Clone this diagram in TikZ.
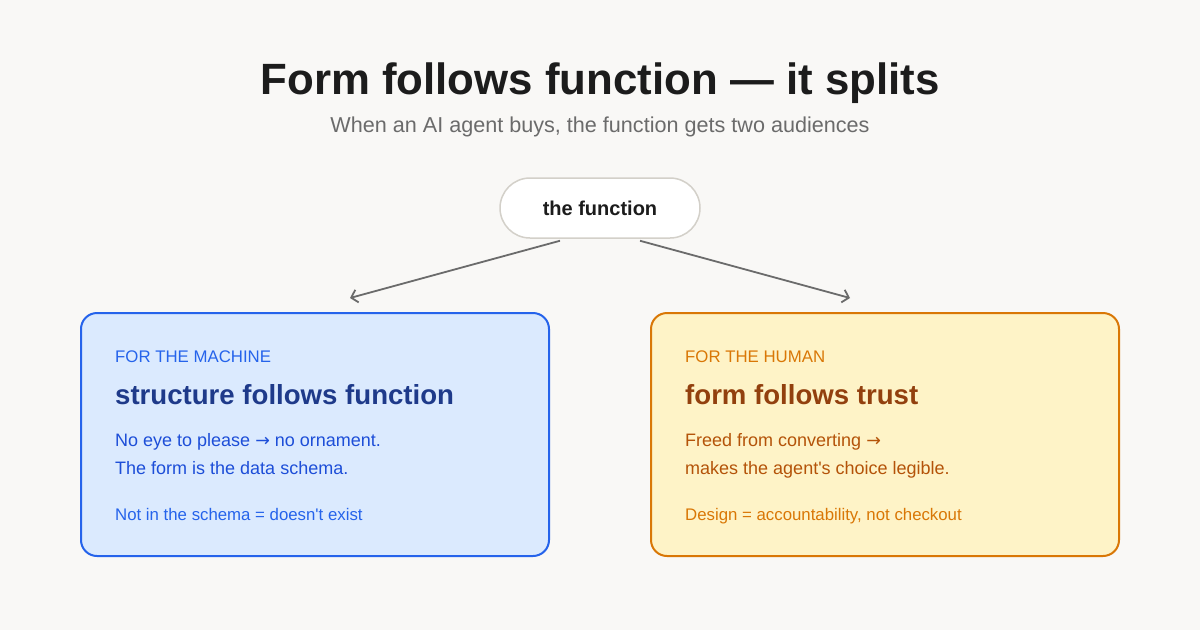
\documentclass[tikz,border=0pt]{standalone}
\usepackage{fontspec}
\setmainfont{Liberation Sans}[Ligatures=TeXOff]
\newfontfamily\arrowfont{DejaVu Sans}
\usetikzlibrary{arrows.meta}

\definecolor{paper}{HTML}{F9F8F6}
\definecolor{ink}{HTML}{1C1C1C}
\definecolor{muted}{HTML}{6B6B6B}
\definecolor{pillline}{HTML}{D3D0C9}
\definecolor{bluefill}{HTML}{DBEAFE}
\definecolor{blueline}{HTML}{2563EB}
\definecolor{bluehead}{HTML}{1E3A8A}
\definecolor{bluetext}{HTML}{1D4ED8}
\definecolor{ambfill}{HTML}{FEF3C7}
\definecolor{ambline}{HTML}{D97706}
\definecolor{ambhead}{HTML}{92400E}
\definecolor{ambtext}{HTML}{B45309}

\newcommand{\rarr}{{\arrowfont\fontsize{17.5}{20}\selectfont →}}

\begin{document}
\begin{tikzpicture}[
    x=1pt, y=-1pt,
    >={Straight Barb[length=6pt, width=13pt, line width=1.8pt]}, % open chevron tips
    card/.style={draw, line width=2pt, rounded corners=16pt, minimum width=468pt, minimum height=243pt},
    txt/.style={anchor=base west, inner sep=0pt},
    kicker/.style={txt, font=\fontsize{16.8}{20}\selectfont},
    headline/.style={txt, font=\fontsize{27.6}{32}\selectfont\bfseries},
    body/.style={txt, font=\fontsize{18}{21}\selectfont},
    link/.style={->, muted, line width=1.8pt}
]

    % Background and page size
    \useasboundingbox[fill=paper] (0,0) rectangle (1200,630);

    % Title block
    \node[anchor=base, inner sep=0pt, text=ink, font=\fontsize{43.8}{52}\selectfont\bfseries] (title) at (600,94) {Form follows function — it splits};
    \node[anchor=base, inner sep=0pt, text=muted, font=\fontsize{21.6}{26}\selectfont] (subtitle) at (600,132) {When an AI agent buys, the function gets two audiences};

    % Root pill
    \node[draw=pillline, fill=white, line width=1.5pt, rounded corners=30pt,
          minimum width=200pt, minimum height=60pt, text=ink,
          font=\fontsize{20}{24}\selectfont\bfseries] (func) at (600,208) {the function};

    % Two cards
    \node[card, draw=blueline, fill=bluefill] (machine) at (315,434.5) {};
    \node[card, draw=ambline, fill=ambfill] (human) at (885,434.5) {};

    % Arrow ends, just above each card
    \coordinate (funcL) at ([xshift=-40pt, yshift=-2pt]func.south);
    \coordinate (funcR) at ([xshift=40pt, yshift=-2pt]func.south);
    \coordinate (machineIn) at ([xshift=35pt, yshift=14pt]machine.north);
    \coordinate (humanIn) at ([xshift=-35pt, yshift=14pt]human.north);
    \draw[link] (funcL) -- (machineIn);
    \draw[link] (funcR) -- (humanIn);

    % Left card text
    \node[kicker, text=blueline] (mkick) at (115,362) {FOR THE MACHINE};
    \node[headline, text=bluehead] (mhead) at (115,404) {structure follows function};
    \node[body, text=bluetext] (mline1) at (115,446) {No eye to please \rarr\ no ornament.};
    \node[body, text=bluetext] (mline2) at (115,474) {The form is the data schema.};
    \node[kicker, text=blueline] (mfoot) at (115,520) {Not in the schema = doesn't exist};

    % Right card text
    \node[kicker, text=ambline] (hkick) at (685,362) {FOR THE HUMAN};
    \node[headline, text=ambhead] (hhead) at (685,404) {form follows trust};
    \node[body, text=ambtext] (hline1) at (685,446) {Freed from converting \rarr};
    \node[body, text=ambtext] (hline2) at (685,474) {makes the agent's choice legible.};
    \node[kicker, text=ambline] (hfoot) at (685,520) {Design = accountability, not checkout};

\end{tikzpicture}
\end{document}
